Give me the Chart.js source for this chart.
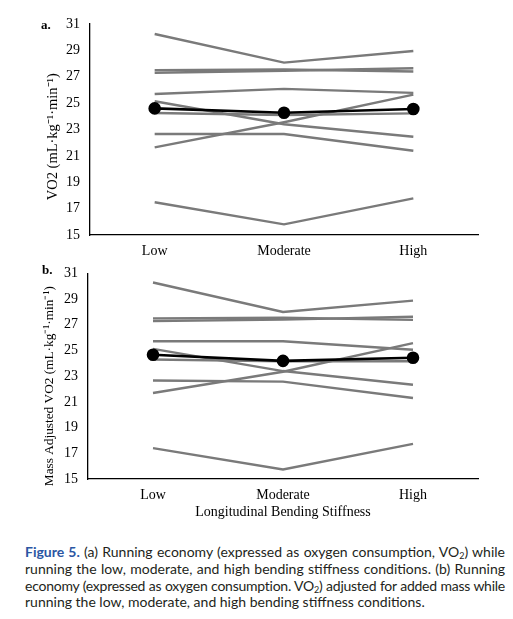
<!DOCTYPE html>
<html>
<head>
<meta charset="utf-8">
<script src="https://cdn.jsdelivr.net/npm/chart.js@4.4.0/dist/chart.umd.min.js"></script>
<style>
  html, body { margin: 0; padding: 0; background: #fff; }
  body { width: 513px; height: 619px; position: relative; overflow: hidden; }
  canvas { position: absolute; left: 0; }
  #chartA { top: 0; }
  #chartB { top: 255px; }
  .panel { position: absolute; font-family: "Liberation Serif", serif; font-weight: bold; font-size: 13px; color: #000; }
  #caption { position: absolute; left: 25px; top: 544px; width: 480px; font-family: Lato, sans-serif; font-size: 14px; line-height: 16.8px; color: #231f20; }
  #caption div { text-align: justify; text-align-last: justify; white-space: nowrap; height: 16.8px; }
  #caption div.tight { letter-spacing: -0.25px; word-spacing: -0.5px; }
  #caption div.last { text-align-last: left; }
  #caption sub { font-size: 9px; line-height: 0; vertical-align: -2px; }
  #caption .fig { color: #2b56a3; font-weight: bold; }
</style>
</head>
<body>
<canvas id="chartA" width="513" height="262"></canvas>
<canvas id="chartB" width="513" height="270"></canvas>
<div class="panel" style="left:41px; top:17px;">a.</div>
<div class="panel" style="left:42px; top:262px;">b.</div>
<div id="caption">
  <div><span class="fig">Figure 5.</span> (a) Running economy (expressed as oxygen consumption, VO<sub>2</sub>) while</div>
  <div>running the low, moderate, and high bending stiffness conditions. (b) Running</div>
  <div class="tight">economy (expressed as oxygen consumption. VO<sub>2</sub>) adjusted for added mass while</div>
  <div class="last">running the low, moderate, and high bending stiffness conditions.</div>
</div>
<script>
const stiffness = ["Low", "Moderate", "High"];
const yTicks = [15, 17, 19, 21, 23, 25, 27, 29, 31];

// panel a: individual runners + group mean
const vo2Runners = [
  [30.24, 28.07, 28.95],
  [27.50, 27.55, 27.40],
  [27.30, 27.45, 27.65],
  [25.69, 26.08, 25.78],
  [25.14, 23.40, 22.45],
  [24.25, 24.10, 24.22],
  [22.66, 22.66, 21.39],
  [21.65, 23.55, 25.65],
  [17.48, 15.81, 17.78]
];
const vo2Mean = [24.60, 24.27, 24.55];

// panel b: mass adjusted
const adjRunners = [
  [30.29, 28.00, 28.88],
  [27.50, 27.55, 27.38],
  [27.30, 27.40, 27.63],
  [25.72, 25.72, 25.06],
  [25.13, 23.40, 22.33],
  [24.30, 24.15, 24.16],
  [22.66, 22.58, 21.30],
  [21.69, 23.35, 25.57],
  [17.40, 15.74, 17.73]
];
const adjMean = [24.67, 24.19, 24.44];

const serif = "'Liberation Serif', 'Times New Roman', serif";

function buildDatasets(runners, mean) {
  const sets = [{
    data: mean,
    borderColor: "#000",
    backgroundColor: "#000",
    borderWidth: 2.6,
    pointRadius: 5,
    pointBackgroundColor: "#000",
    pointBorderColor: "#000",
    tension: 0
  }];
  runners.forEach(function (r) {
    sets.push({
      data: r,
      borderColor: "#7a7a7a",
      borderWidth: 2.4,
      pointRadius: 0,
      tension: 0
    });
  });
  return sets;
}

function makeChart(id, runners, mean, yTitle, yTitleSize, xTitle, pad, xHeight) {
  const ctx = document.getElementById(id).getContext("2d");
  return new Chart(ctx, {
    type: "line",
    data: { labels: stiffness, datasets: buildDatasets(runners, mean) },
    options: {
      responsive: false,
      animation: false,
      devicePixelRatio: 1,
      layout: { padding: pad },
      plugins: { legend: { display: false }, tooltip: { enabled: false } },
      scales: {
        x: {
          offset: true,
          grid: { display: false, drawTicks: false },
          border: { display: true, color: "#000", width: 1.3 },
          ticks: { color: "#000", padding: 8, font: { family: serif, size: 14 } },
          title: {
            display: !!xTitle,
            text: xTitle,
            color: "#000",
            padding: { top: 1, bottom: 4 },
            font: { family: serif, size: 14 }
          },
          afterFit: function (scale) { scale.height = xHeight; }
        },
        y: {
          min: yTicks[0],
          max: yTicks[yTicks.length - 1],
          grid: { display: false, drawTicks: false },
          border: { display: true, color: "#000", width: 1.3 },
          ticks: {
            stepSize: 2,
            color: "#000",
            padding: 10,
            font: { family: serif, size: 14 }
          },
          title: {
            display: true,
            text: yTitle,
            color: "#000",
            padding: { top: 4, bottom: 0 },
            font: { family: serif, size: yTitleSize }
          },
          afterFit: function (scale) { scale.width = 50; }
        }
      }
    }
  });
}

// trailing spaces nudge the rotated titles down, as in the original figure
makeChart("chartA", vo2Runners, vo2Mean, "VO2 (mL·kg⁻¹·min⁻¹)\u2003", 14.5, "",
  { left: 40, right: 35, top: 24, bottom: 0 }, 27);
makeChart("chartB", adjRunners, adjMean, "Mass Adjusted VO2 (mL·kg⁻¹·min⁻¹)\u2003\u2002", 13.3, "Longitudinal Bending Stiffness",
  { left: 38, right: 35, top: 15, bottom: 0 }, 46);
</script>
</body>
</html>
